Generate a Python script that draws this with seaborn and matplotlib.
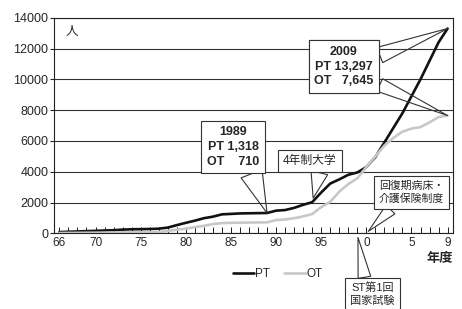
import matplotlib
matplotlib.use('Agg')
import matplotlib.pyplot as plt
from matplotlib.ticker import MultipleLocator
import pandas as pd
import seaborn as sns

# --- data ---
years = list(range(1966, 2010))
pt = [80, 100, 120, 140, 160, 180, 200, 240, 260, 270,
      280, 300, 370, 530, 680, 820, 980, 1080, 1230, 1260,
      1290, 1300, 1310, 1318, 1470, 1510, 1650, 1850, 2020, 2650,
      3230, 3500, 3800, 3950, 4300, 4950, 5900, 6850, 7800, 8900,
      10000, 11200, 12400, 13297]
ot = [20, 25, 30, 35, 40, 45, 50, 55, 60, 65,
      70, 80, 150, 230, 300, 400, 480, 600, 660, 680,
      690, 700, 705, 710, 860, 900, 980, 1100, 1250, 1700,
      2050, 2700, 3200, 3570, 4300, 5000, 5700, 6200, 6600, 6800,
      6900, 7200, 7550, 7645]

xtick_years = [1966, 1970, 1975, 1980, 1985, 1990, 1995, 2000, 2005, 2009]
xtick_labels = ['66', '70', '75', '80', '85', '90', '95', '0', '5', '9']

mark_year = 1989      # 1989 callout
last_year = 2009      # 2009 callout
univ_year = 1994      # 4年制大学
st_year = 1999        # ST第1回国家試験
kaigo_year = 2000     # 回復期病床・介護保険制度

df = pd.DataFrame({
    'year': years * 2,
    'count': pt + ot,
    'series': ['PT'] * len(years) + ['OT'] * len(years),
})

sns.set_theme(style='white')
plt.rcParams['font.family'] = ['Liberation Sans', 'Noto Sans CJK JP']

fig = plt.figure(figsize=(4.62, 3.09), dpi=100)
ax = fig.add_axes([54 / 462, 1 - 233.3 / 309, 399 / 462, 215.6 / 309])

sns.lineplot(data=df, x='year', y='count', hue='series',
             palette={'PT': '#111111', 'OT': '#c8c8c8'},
             linewidth=1.9, ax=ax)

ax.set_xlim(1965.4, 2009.6)
ax.set_ylim(0, 14000)
ax.set_yticks(range(0, 14001, 2000))
ax.set_xticks(xtick_years)
ax.set_xticklabels(xtick_labels, fontsize=8.5)
ax.xaxis.set_minor_locator(MultipleLocator(1))
ax.tick_params(axis='x', which='both', bottom=True, direction='in', length=4,
               width=0.7, color='#222', pad=3)
ax.tick_params(axis='y', left=True, direction='out', length=3, width=0.8,
               color='#222', labelsize=9, pad=1)
ax.set_xlabel('')
ax.set_ylabel('')
ax.yaxis.grid(True, color='#333', linewidth=0.8)
ax.set_axisbelow(True)
for s in ax.spines.values():
    s.set_color('#222')
    s.set_linewidth(0.8)

sns.move_legend(ax, 'center', bbox_to_anchor=(0.561, -0.189), ncol=2,
                frameon=False, title=None, fontsize=8.5, handlelength=1.8,
                handletextpad=0.1, columnspacing=1.2)

ax.text(0.045, 0.934, '人', transform=ax.transAxes, ha='center', va='center', fontsize=9)
ax.text(1.0, -0.119, '年度', transform=ax.transAxes, ha='right', va='center',
        fontsize=9.5, fontweight='bold')


def callout(text, xy, xytext, relpos, tail, size, weight='normal', shrink=0):
    ax.annotate(text, xy=xy, xycoords='data', xytext=xytext, textcoords='axes fraction',
                ha='center', va='center', fontsize=size, fontweight=weight,
                linespacing=1.3,
                bbox=dict(boxstyle='square,pad=0.45', fc='white', ec='#333', lw=0.8),
                arrowprops=dict(arrowstyle=f'wedge,tail_width={tail},shrink_factor=0.5',
                                fc='none', ec='#333', lw=0.8, relpos=relpos,
                                shrinkA=0, shrinkB=shrink),
                annotation_clip=False)


i89 = years.index(mark_year)
callout(f'{mark_year}\nPT {pt[i89]:,}\nOT    {ot[i89]:,}', (mark_year, pt[i89]),
        (0.4486, 0.4002), (0.81, 0), 1.8, 9, 'bold')

i09 = years.index(last_year)
txt09 = f'{last_year}\nPT {pt[i09]:,}\nOT   {ot[i09]:,}'
callout(txt09, (last_year, pt[i09]), (0.7268, 0.7736), (1, 0.72), 1.3, 9, 'bold')
callout(txt09, (last_year, ot[i09]), (0.7268, 0.7736), (1, 0.12), 1.1, 9, 'bold')

callout('4年制大学', (univ_year, pt[years.index(univ_year)]), (0.6416, 0.3354),
        (0.70, 0), 1.45, 8.5, shrink=3)
callout('回復期病床・\n介護保険制度', (kaigo_year, 0), (0.896, 0.1893),
        (0.26, 0), 1.15, 7.8, shrink=2)
callout('ST第1回\n国家試験', (st_year, 0), (0.798, -0.283),
        (0.34, 1), 1.15, 8, shrink=3)

fig.savefig('out.png', dpi=100)
